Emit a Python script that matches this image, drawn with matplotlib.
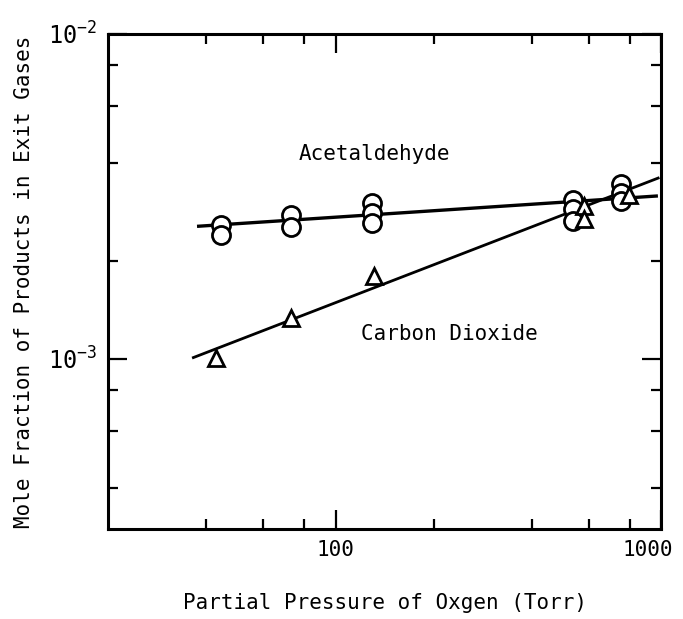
import matplotlib
matplotlib.use("Agg")
from matplotlib import pyplot as plt
from matplotlib.ticker import FixedLocator, NullFormatter
from matplotlib.transforms import ScaledTranslation

# acetaldehyde (circles), several runs at each pressure
acet_p = [44.5, 44.5, 73, 73, 129, 129, 129, 538, 538, 538, 755, 755, 755]
acet_y = [2.58e-3, 2.41e-3, 2.77e-3, 2.55e-3, 3.02e-3, 2.81e-3, 2.62e-3,
          3.08e-3, 2.90e-3, 2.65e-3, 3.45e-3, 3.25e-3, 3.05e-3]

# carbon dioxide (triangles)
co2_p = [43, 73, 131, 578, 578, 798]
co2_y = [1.01e-3, 1.34e-3, 1.80e-3, 2.95e-3, 2.70e-3, 3.20e-3]

# fitted lines (end points)
acet_fit_p = [38, 966]
acet_fit_y = [2.56e-3, 3.17e-3]
co2_fit_p = [36.6, 979]
co2_fit_y = [1.01e-3, 3.6e-3]

x_major = [100, 1000]
x_minor = [40, 60, 80, 200, 400, 600, 800]
y_major = [1e-3, 1e-2]
y_minor = [4e-4, 6e-4, 8e-4, 2e-3, 4e-3, 6e-3, 8e-3]

plt.rcParams["font.family"] = "DejaVu Sans Mono"
plt.rcParams["mathtext.fontset"] = "custom"
plt.rcParams["mathtext.rm"] = "DejaVu Sans Mono"

fig = plt.figure(figsize=(6.83, 6.19), dpi=100)
ax = fig.add_axes([0.158, 0.1454, 0.81, 0.8])

ax.plot(acet_fit_p, acet_fit_y, "-", color="black", lw=2.4, zorder=2)
ax.plot(co2_fit_p, co2_fit_y, "-", color="black", lw=2.0, zorder=2)
ax.plot(acet_p, acet_y, "o", ms=13, mfc="white", mec="black", mew=2.0, zorder=3)
ax.plot(co2_p, co2_y, "^", ms=11.5, mfc="white", mec="black", mew=2.0, zorder=3)

ax.set_xscale("log")
ax.set_yscale("log")
ax.set_xlim(20, 1000)
ax.set_ylim(3e-4, 1e-2)

ax.xaxis.set_major_locator(FixedLocator(x_major))
ax.xaxis.set_minor_locator(FixedLocator(x_minor))
ax.yaxis.set_major_locator(FixedLocator(y_major))
ax.yaxis.set_minor_locator(FixedLocator(y_minor))
ax.set_xticklabels(["100", "1000"])
ax.set_yticklabels([r"$\mathregular{10^{-3}}$", r"$\mathregular{10^{-2}}$"])
ax.xaxis.set_minor_formatter(NullFormatter())
ax.yaxis.set_minor_formatter(NullFormatter())

ax.tick_params(which="both", direction="in", top=True, right=True,
               width=1.6, color="black")
ax.tick_params(axis="x", labelsize=15)
ax.tick_params(axis="y", labelsize=17)
ax.tick_params(which="major", length=14, pad=8)
ax.tick_params(which="minor", length=7)
for s in ax.spines.values():
    s.set_linewidth(2.2)

# pull the "1000" label a little inside the figure, as in the original
last = ax.get_xticklabels()[-1]
last.set_transform(last.get_transform() + ScaledTranslation(-10 / 72, 0, fig.dpi_scale_trans))

ax.text(77, 4.28e-3, "Acetaldehyde", fontsize=15, va="center", ha="left")
ax.text(120, 1.19e-3, "Carbon Dioxide", fontsize=15, va="center", ha="left")

ax.set_xlabel("Partial Pressure of Oxgen (Torr)", fontsize=15, labelpad=24)
ax.set_ylabel("Mole Fraction of Products in Exit Gases", fontsize=15, labelpad=10)

fig.savefig("out.png", dpi=100)
